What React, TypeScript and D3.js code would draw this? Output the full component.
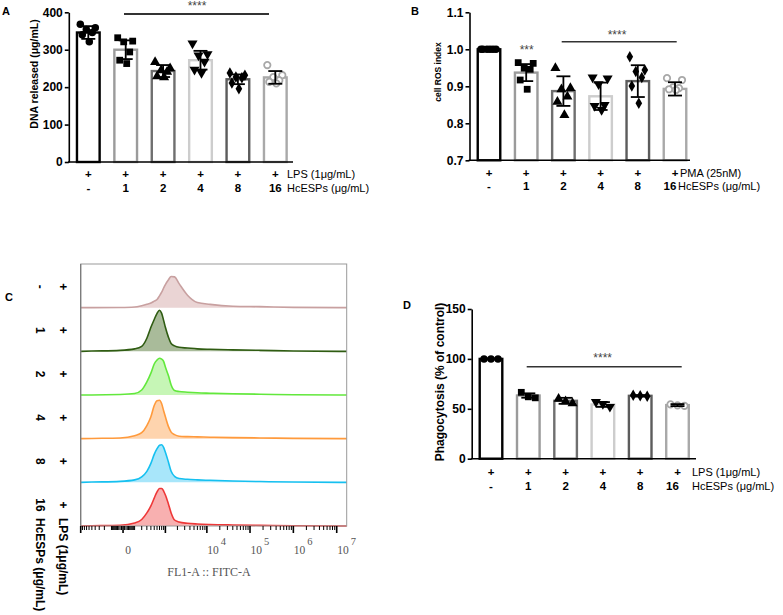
import React, { useRef, useEffect } from 'react';
import * as d3 from 'd3';

const SANS = "'Liberation Sans', Arial, Helvetica, sans-serif";
const SERIF = "'Liberation Serif', 'Times New Roman', serif";

const groups = ['-', '1', '2', '4', '8', '16'];

// A - DNA released (μg/mL)
const dnaMean = [346, 300, 243, 272, 221, 226];
const dnaSd = [17, 25, 16, 25, 13, 17];
const dnaPoints = [
  [368, 359, 354, 346, 340, 321],
  [332, 323, 321, 294, 272, 263],
  [267, 250, 245, 241, 229, 226],
  [317, 288, 285, 268, 247, 238],
  [238, 232, 227, 225, 211, 196],
  [259, 232, 227, 218, 214, 210],
];
const dnaTicks = [0, 100, 200, 300, 400];

// B - cell ROS index
const rosMean = [1.0, 0.937, 0.887, 0.873, 0.914, 0.893];
const rosSd = [0.001, 0.023, 0.04, 0.037, 0.043, 0.018];
const rosPoints = [
  [1, 1, 1, 1, 1, 1],
  [0.964, 0.962, 0.949, 0.946, 0.917, 0.892],
  [0.949, 0.895, 0.892, 0.872, 0.858, 0.822],
  [0.924, 0.921, 0.906, 0.85, 0.847, 0.836],
  [0.98, 0.944, 0.94, 0.924, 0.901, 0.854],
  [0.922, 0.917, 0.897, 0.895, 0.892, 0.89],
];
const rosTicks = [0.7, 0.8, 0.9, 1.0, 1.1];

// D - Phagocytosis (% of control)
const phagoMean = [100, 63.3, 58, 54.3, 63, 53.7];
const phagoSd = [0.4, 2.2, 3, 2.4, 0.8, 1];
const phagoPoints = [
  [100, 100, 100],
  [66.5, 62, 61],
  [60, 57.5, 55.5],
  [57, 55, 52],
  [63.5, 63, 62.5],
  [54.5, 53.5, 53],
];
const phagoTicks = [0, 50, 100, 150];

// C - FL1-A :: FITC-A histograms (% of mode), one per treatment row
const fitcBins = [-1000, -500, -20, 100, 200, 300, 400, 500, 600, 700, 800, 900, 1000, 1200, 1400, 1700, 2200, 3500, 6000, 12000, 40000, 170000, 1e6, 1.2e7, 1.7e7];
const histNeg = [0, 0, 0.5, 1.6, 4.6, 7.6, 10.5, 14.9, 18.8, 27, 35.5, 45, 53, 64, 71.5, 70.5, 55, 28.6, 11.9, 7.6, 3.4, 2.3, 0.7, 0, 0];
const hist1 = [0, 0.7, 2.3, 5.7, 11.5, 30, 55, 73, 87, 94, 87, 71, 55, 32, 18, 12.6, 9.2, 7.6, 5.7, 4.6, 3.4, 2.3, 0.7, 0, 0];
const hist2 = [0, 0, 1.1, 3.4, 11.5, 30, 50, 71, 80, 84, 82, 77, 64, 44, 23, 10.3, 8, 6.4, 5, 4.1, 2.7, 1.8, 0.7, 0, 0];
const hist4 = [0, 0.5, 1.6, 6.9, 13.7, 30, 50, 76, 87, 88, 80, 64, 50, 27.5, 15, 9.2, 5.7, 4.6, 4.1, 3.4, 2.3, 1.6, 0.7, 0, 0];
const hist8 = [0, 0.7, 2.3, 5.7, 12.6, 25.2, 43.5, 64, 77, 85, 86, 80, 69, 46, 25.2, 13.7, 8.7, 6.9, 5.7, 4.6, 3, 1.8, 0.7, 0, 0];
const hist16 = [0, 0.5, 1.8, 6.9, 14.9, 30, 46, 64, 78, 86, 86, 80, 71, 50, 30, 13.7, 9.2, 6.2, 4.6, 3.4, 2.3, 1.4, 0.5, 0, 0];

const barStroke = ['#000000', '#9b9b9b', '#6f6f6f', '#cdcdcd', '#5c5c5c', '#a9a9a9'];
const flowLine = ['#c8a0a0', '#2f5c12', '#62e83c', '#ff9a3c', '#16c0f0', '#ee3838'];
const flowFill = ['#ead4d4', '#a9bb9a', '#c6f6b6', '#fed4ae', '#a8e6fa', '#f8b0b0'];

const markerType = [d3.symbolCircle, d3.symbolSquare, d3.symbolTriangle, d3.symbolTriangle, d3.symbolDiamond, d3.symbolCircle];
const markerSize = [44, 46, 44, 44, 38, 32];
const markerRot = [0, 0, 0, 180, 0, 0];
const JITTER6 = [-8, 7, -2, 4, -6, 1];
const JITTER3 = [-7, 0, 7];
const PAD_INNER = 0.33;
const SW = 2.4;
const TICK_TXT = 12;
const ROW_TXT = 11.5;
const TREAT_TXT = 11;

function drawBarPanel(svg, p) {
  const bw = p.step * (1 - PAD_INNER);
  const po = (p.firstCenter - p.x0 - bw / 2) / p.step;
  const x = d3.scaleBand().domain(groups)
    .range([p.x0, p.x0 + p.step * (groups.length - PAD_INNER + 2 * po)])
    .paddingInner(PAD_INNER).paddingOuter(po);
  const y = d3.scaleLinear().domain(p.domain).range([p.yBottom, p.yTop]);
  const g = svg.append('g');

  // bars
  g.selectAll('rect.bar').data(p.means).join('rect')
    .attr('x', (d, i) => x(groups[i]) + SW / 2)
    .attr('y', d => y(d))
    .attr('width', x.bandwidth() - SW)
    .attr('height', d => y(p.domain[0]) - y(d))
    .attr('fill', '#fff')
    .attr('stroke', (d, i) => barStroke[i])
    .attr('stroke-width', SW);

  // points
  p.points.forEach((vals, i) => {
    const cx = x(groups[i]) + x.bandwidth() / 2;
    const jit = vals.length === 3 ? JITTER3 : JITTER6;
    const sym = d3.symbol().type(markerType[i]).size(markerSize[i]);
    g.selectAll(null).data(vals).join('path')
      .attr('d', sym())
      .attr('transform', (v, k) => `translate(${cx + jit[k]},${y(v)}) rotate(${markerRot[i]})`)
      .attr('fill', i === 5 ? '#fff' : '#000')
      .attr('stroke', i === 5 ? '#a8a8a8' : 'none')
      .attr('stroke-width', 1.8);
  });

  // error bars (mean ± SD)
  p.means.forEach((m, i) => {
    const cx = x(groups[i]) + x.bandwidth() / 2;
    const lo = y(m - p.sds[i]), hi = y(m + p.sds[i]);
    const eg = g.append('g').attr('stroke', '#000').attr('stroke-width', 1.8);
    eg.append('line').attr('x1', cx).attr('x2', cx).attr('y1', lo).attr('y2', hi);
    eg.append('line').attr('x1', cx - 7).attr('x2', cx + 7).attr('y1', lo).attr('y2', lo);
    eg.append('line').attr('x1', cx - 7).attr('x2', cx + 7).attr('y1', hi).attr('y2', hi);
  });

  // axes
  const ya = g.append('g').attr('transform', `translate(${p.x0},0)`)
    .call(d3.axisLeft(y).tickValues(p.ticks).tickFormat(p.fmt).tickSize(4).tickSizeOuter(0).tickPadding(2));
  ya.select('.domain').attr('stroke', '#000').attr('stroke-width', 1.6);
  ya.selectAll('.tick line').attr('stroke', '#000').attr('stroke-width', 1.6);
  ya.selectAll('text').attr('font-family', SANS).attr('font-size', TICK_TXT).attr('font-weight', 700).attr('fill', '#000');

  g.append('line').attr('x1', p.x0 - 0.8).attr('x2', p.xEnd)
    .attr('y1', y(p.domain[0])).attr('y2', y(p.domain[0]))
    .attr('stroke', '#000').attr('stroke-width', 1.6);

  g.append('text')
    .attr('transform', `translate(${p.yLabelX + p.yLabelSize * 0.36},${p.yLabelY}) rotate(-90)`)
    .attr('text-anchor', 'middle')
    .attr('font-family', SANS).attr('font-size', p.yLabelSize).attr('font-weight', 700)
    .text(p.yLabel);

  // treatment rows
  const rowFont = (sel) => sel.attr('font-family', SANS).attr('font-size', ROW_TXT).attr('font-weight', 700).attr('text-anchor', 'middle');
  g.selectAll(null).data(groups).join('text').call(rowFont)
    .attr('x', d => x(d) + x.bandwidth() / 2).attr('y', p.row1).text('+');
  g.selectAll(null).data(groups).join('text').call(rowFont)
    .attr('x', (d, i) => x(d) + x.bandwidth() / 2 + (i === groups.length - 1 ? p.lastDx : 0))
    .attr('y', p.row2).text(d => d);
  g.append('text').attr('x', p.treatX).attr('y', p.row1)
    .attr('font-family', SANS).attr('font-size', TREAT_TXT).text(p.treat);
  g.append('text').attr('x', p.treatX2).attr('y', p.row2)
    .attr('font-family', SANS).attr('font-size', TREAT_TXT).text('HcESPs (μg/mL)');

  // significance
  p.sig.forEach(s => {
    if (s.x2 > s.x1) {
      g.append('line').attr('x1', s.x1).attr('x2', s.x2).attr('y1', s.y).attr('y2', s.y)
        .attr('stroke', '#333').attr('stroke-width', s.w);
    }
    g.append('text').attr('x', s.tx).attr('y', s.ty).attr('text-anchor', 'middle')
      .attr('font-family', SANS).attr('font-size', 12).attr('fill', '#444').text(s.stars);
  });
}

function drawFlow(svg) {
  const x = d3.scaleSymlog().constant(118).domain([-1000, 1.7e7]).range([80.7, 346.7]);
  const rows = d3.scaleBand().domain(groups).range([264, 526]);
  const g = svg.append('g');
  const hists = [histNeg, hist1, hist2, hist4, hist8, hist16];
  const rotFont = (sel) => sel.attr('font-family', SANS).attr('font-size', 12).attr('font-weight', 700);

  hists.forEach((h, i) => {
    const base = rows(groups[i]) + rows.bandwidth();
    const y = d3.scaleLinear().domain([0, 100]).range([base, base - rows.bandwidth()]);
    const area = d3.area().x((d, j) => x(fitcBins[j])).y0(base).y1(d => y(d)).curve(d3.curveMonotoneX);
    g.append('path').attr('d', area(h)).attr('fill', flowFill[i]);
    g.append('path').attr('d', area.lineY1()(h)).attr('fill', 'none')
      .attr('stroke', flowLine[i]).attr('stroke-width', 1.6);

    // row labels, rotated
    const cy = base - 21;
    g.append('text').attr('transform', `translate(${40 - 4.3},${cy}) rotate(90)`)
      .attr('text-anchor', 'middle').call(rotFont).text(groups[i]);
    g.append('text').attr('transform', `translate(${62.8 - 4.2},${cy}) rotate(90)`)
      .attr('text-anchor', 'middle').call(rotFont).text('+');
  });

  g.append('text').attr('transform', `translate(${63.5 - 4.2},518) rotate(90)`)
    .call(rotFont).text('LPS (1μg/mL)');
  g.append('text').attr('transform', `translate(${40 - 4.3},518) rotate(90)`)
    .call(rotFont).text('HcESPs (μg/mL)');

  // frame
  g.append('rect').attr('x', 80.7).attr('y', 264).attr('width', 266).attr('height', 262)
    .attr('fill', 'none').attr('stroke', '#999').attr('stroke-width', 1);
  g.append('line').attr('x1', 80.7).attr('x2', 80.7).attr('y1', 264).attr('y2', 526)
    .attr('stroke', '#777').attr('stroke-width', 1.2);

  // biexponential-style ticks
  const majors = [-1000, 0, 1000, 1e4, 1e5, 1e6, 1e7];
  const minors = [];
  [10, 100].forEach(b => d3.range(1, 10).forEach(k => { minors.push(k * b, -k * b); }));
  [1000, 1e4, 1e5, 1e6].forEach(b => d3.range(2, 10).forEach(k => minors.push(k * b)));
  const [d0, d1] = x.domain();
  g.selectAll(null).data(minors.filter(v => v > d0 && v < d1)).join('line')
    .attr('x1', d => x(d)).attr('x2', d => x(d)).attr('y1', 526).attr('y2', 530)
    .attr('stroke', '#000').attr('stroke-width', 1);
  g.selectAll(null).data(majors.filter(v => v >= d0 && v <= d1)).join('line')
    .attr('x1', d => x(d)).attr('x2', d => x(d)).attr('y1', 526).attr('y2', 533)
    .attr('stroke', '#000').attr('stroke-width', 1.6);

  g.append('text').attr('x', x(0) + 5).attr('y', 553.5).attr('text-anchor', 'middle')
    .attr('font-family', SERIF).attr('font-size', 11.5).attr('fill', '#555').text('0');
  [4, 5, 6, 7].forEach(e => {
    const t = g.append('text').attr('x', x(Math.pow(10, e)) + 0.5).attr('y', 553.5)
      .attr('font-family', SERIF).attr('font-size', 11.5).attr('fill', '#555').text('10');
    t.append('tspan').attr('dx', 2).attr('dy', -9).attr('font-size', 10.5).text(String(e));
  });
  g.append('text').attr('x', 209).attr('y', 576).attr('text-anchor', 'middle')
    .attr('font-family', SERIF).attr('font-size', 12).attr('fill', '#555').text('FL1-A :: FITC-A');
}

export default function App() {
  const ref = useRef(null);

  useEffect(() => {
    const svg = d3.select(ref.current);
    svg.selectAll('*').remove();

    drawBarPanel(svg, {
      x0: 68.8, xEnd: 293, firstCenter: 88.3, step: 37.4, yTop: 12.3, yBottom: 162,
      domain: [0, 400], ticks: dnaTicks, fmt: d3.format('d'),
      means: dnaMean, sds: dnaSd, points: dnaPoints,
      yLabel: 'DNA released (μg/mL)', yLabelX: 33.8, yLabelY: 74, yLabelSize: 10.5,
      treat: 'LPS (1μg/mL)', treatX: 287, treatX2: 287, row1: 178, row2: 192, lastDx: 0,
      sig: [{ x1: 124, x2: 269, y: 14, w: 2, stars: '****', tx: 197, ty: 10 }],
    });

    drawBarPanel(svg, {
      x0: 469.5, xEnd: 690, firstCenter: 489, step: 37.2, yTop: 12.3, yBottom: 160.3,
      domain: [0.7, 1.1], ticks: rosTicks, fmt: d3.format('.1f'),
      means: rosMean, sds: rosSd, points: rosPoints,
      yLabel: 'cell ROS index', yLabelX: 437.5, yLabelY: 72, yLabelSize: 8.5,
      treat: 'PMA (25nM)', treatX: 680, treatX2: 678, row1: 176.5, row2: 189.5, lastDx: -5,
      sig: [
        { x1: 561.7, x2: 676.7, y: 41.7, w: 1.4, stars: '****', tx: 617, ty: 38.5 },
        { x1: 0, x2: 0, y: 0, w: 0, stars: '***', tx: 526.7, ty: 54.4 },
      ],
    });

    drawBarPanel(svg, {
      x0: 471.7, xEnd: 696, firstCenter: 491, step: 37.3, yTop: 309, yBottom: 458.7,
      domain: [0, 150], ticks: phagoTicks, fmt: d3.format('d'),
      means: phagoMean, sds: phagoSd, points: phagoPoints,
      yLabel: 'Phagocytosis (% of control)', yLabelX: 440, yLabelY: 382, yLabelSize: 12,
      treat: 'LPS (1μg/mL)', treatX: 692, treatX2: 692, row1: 476, row2: 490, lastDx: -5,
      sig: [{ x1: 526.7, x2: 681.7, y: 366.7, w: 1.4, stars: '****', tx: 602.7, ty: 362 }],
    });

    drawFlow(svg);

    const letters = [['A', 2, 15], ['B', 411, 15], ['C', 5, 301], ['D', 403, 309]];
    svg.selectAll('text.panel').data(letters).join('text')
      .attr('class', 'panel')
      .attr('x', d => d[1]).attr('y', d => d[2])
      .attr('font-family', SANS).attr('font-size', 11).attr('font-weight', 700)
      .text(d => d[0]);
  }, []);

  return (
    <svg ref={ref} width={783} height={615}
      style={{ position: 'absolute', left: 0, top: 0, background: '#fff' }} />
  );
}
